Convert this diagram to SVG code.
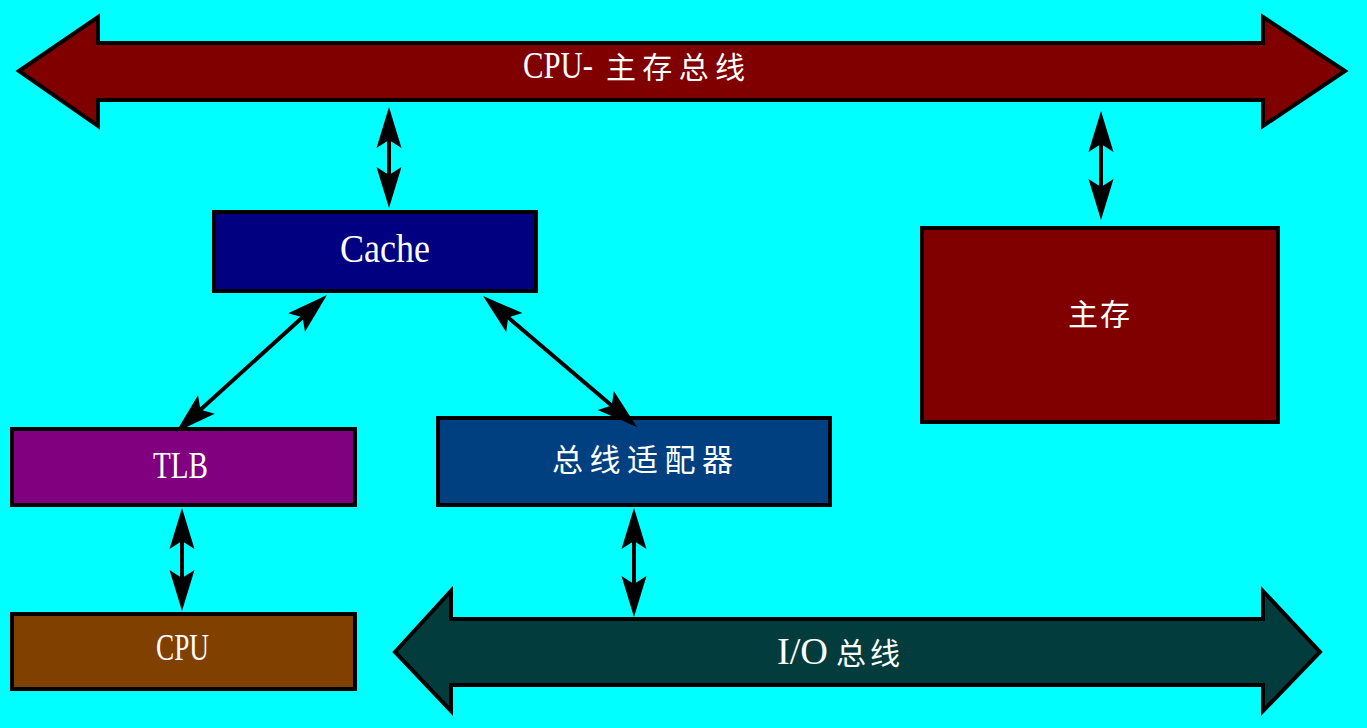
<svg xmlns="http://www.w3.org/2000/svg" width="1367" height="728" viewBox="0 0 1367 728">
<style>
.box{stroke:#000;stroke-width:4}
.bus{stroke:#000;stroke-width:4;stroke-linejoin:miter}
.lat{font-family:"Liberation Serif","Noto Sans CJK SC",serif;fill:#fff}
.cjk{font-family:"Noto Sans CJK SC","Liberation Serif",sans-serif;fill:#fff}
.conn{stroke:#000;stroke-width:4;fill:none;marker-start:url(#ah);marker-end:url(#ah)}
</style>
<defs>
<marker id="ah" markerUnits="userSpaceOnUse" viewBox="-30 -14 48 28" refX="0" refY="0" markerWidth="48" markerHeight="28" orient="auto-start-reverse" overflow="visible">
<path d="M14,0 L-27,-12.5 L-19,0 L-27,12.5 Z" fill="#000"/>
</marker>
</defs>
<rect width="1367" height="728" fill="#00ffff"/>

<g id="cpu-mem-bus">
<path class="bus" fill="#800000" d="M19,71 L98,17 L98,43 L1263,43 L1263,17 L1345,71 L1263,126 L1263,100 L98,100 L98,126 Z"/>
<text y="78"><tspan class="lat" x="523" font-size="38" textLength="70" lengthAdjust="spacingAndGlyphs">CPU-</tspan><tspan class="cjk" x="606" font-size="30" textLength="139" lengthAdjust="spacing">主存总线</tspan></text>
</g>

<g id="io-bus">
<path class="bus" fill="#033c3c" d="M395,652 L451,591 L451,619 L1263,619 L1263,591 L1320,652 L1263,711 L1263,685 L451,685 L451,711 Z"/>
<text y="664"><tspan class="lat" x="777" font-size="38" textLength="51" lengthAdjust="spacingAndGlyphs">I/O</tspan><tspan class="cjk" x="836" font-size="30" textLength="64" lengthAdjust="spacing">总线</tspan></text>
</g>

<g id="cache">
<rect class="box" x="214" y="212" width="322" height="79" fill="#000080"/>
<text class="lat" x="340" y="262" font-size="40" textLength="90" lengthAdjust="spacingAndGlyphs">Cache</text>
</g>

<g id="main-memory">
<rect class="box" x="922" y="228" width="356" height="194" fill="#800000"/>
<text class="cjk" x="1068" y="325" font-size="30" textLength="62" lengthAdjust="spacing">主存</text>
</g>

<g id="tlb">
<rect class="box" x="12" y="429" width="343" height="76" fill="#800080"/>
<text class="lat" x="153" y="478" font-size="37" textLength="55" lengthAdjust="spacingAndGlyphs">TLB</text>
</g>

<g id="bus-adapter">
<rect class="box" x="438" y="418" width="392" height="87" fill="#004080"/>
<text class="cjk" x="552" y="471" font-size="31" textLength="181" lengthAdjust="spacing">总线适配器</text>
</g>

<g id="cpu">
<rect class="box" x="12" y="614" width="343" height="75" fill="#804000"/>
<text class="lat" x="156" y="660" font-size="38" textLength="53" lengthAdjust="spacingAndGlyphs">CPU</text>
</g>

<g id="connectors">
<line class="conn" x1="389" y1="121" x2="389" y2="194"/>
<line class="conn" x1="1101" y1="125" x2="1101" y2="206"/>
<line class="conn" x1="182" y1="522" x2="182" y2="597"/>
<line class="conn" x1="634" y1="522" x2="634" y2="603"/>
<line class="conn" x1="316.6" y1="304.4" x2="186.4" y2="422.6"/>
<line class="conn" x1="493.7" y1="305.1" x2="626.3" y2="417.9"/>
</g>
</svg>
